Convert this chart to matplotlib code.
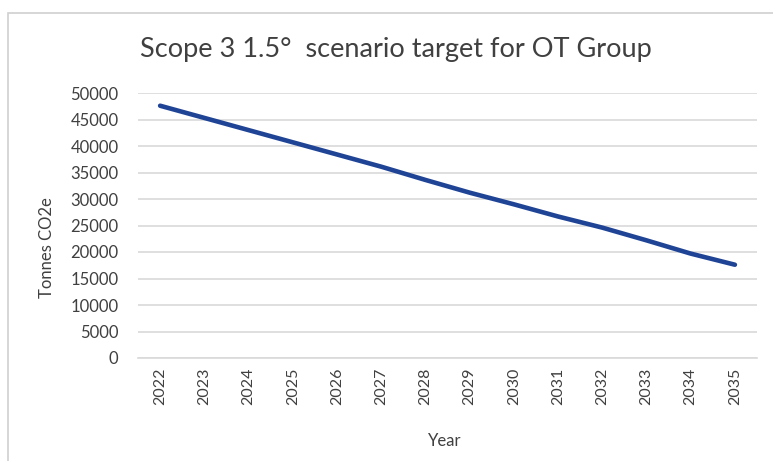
import matplotlib.pyplot as plt
from matplotlib.patches import Rectangle

years = ["2022", "2023", "2024", "2025", "2026", "2027", "2028",
         "2029", "2030", "2031", "2032", "2033", "2034", "2035"]
tonnes = [47600, 45300, 43000, 40700, 38400, 36100, 33600,
          31200, 29000, 26700, 24600, 22200, 19700, 17600]
yticks = list(range(0, 50001, 5000))

plt.rcParams['font.family'] = ['Lato', 'DejaVu Sans']
text_col = "#404040"

W, H = 773, 461
fig = plt.figure(figsize=(W / 100, H / 100), dpi=100)
fig.patches.append(Rectangle((8 / W, -0.1), 1.1, 1 - 13 / H + 0.1,
                             transform=fig.transFigure, fill=False,
                             edgecolor="#d0d0d0", linewidth=1.2))

ax = fig.add_axes([138 / W, 1 - 358 / H, (757 - 138) / W, (358 - 93) / H])
x = range(len(years))
ax.plot(x, tonnes, color="#1f4496", linewidth=3.3, solid_capstyle="round")

ax.set_xlim(-0.5, len(years) - 0.5)
ax.set_ylim(0, 50000)
ax.set_yticks(yticks)
ax.set_yticklabels([str(v) for v in yticks])
ax.set_xticks(list(x))
ax.set_xticklabels(years, rotation=90)
ax.grid(axis="y", color="#d9d9d9", linewidth=1.2)
ax.set_axisbelow(True)
for s in ["top", "right", "left"]:
    ax.spines[s].set_visible(False)
ax.spines["bottom"].set_color("#d9d9d9")
ax.spines["bottom"].set_linewidth(1.2)
ax.tick_params(axis="y", length=0, labelsize=12, colors=text_col, pad=14)
ax.tick_params(axis="x", length=0, labelsize=11.5, colors=text_col, pad=7)

fig.text(47 / W, 1 - 248 / H, "Tonnes CO2e", rotation=90, ha="center",
         va="center", fontsize=12, color=text_col)
fig.text(445 / W, 1 - 441 / H, "Year", ha="center", va="center",
         fontsize=12, color=text_col)
fig.text(396 / W, 1 - 49 / H, "Scope 3 1.5°  scenario target for OT Group",
         ha="center", va="center", fontsize=19.5, color=text_col)

fig.savefig("out.png", dpi=100)
